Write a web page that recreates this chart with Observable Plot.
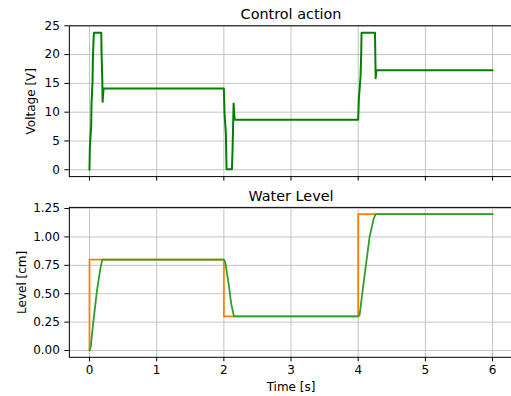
<!DOCTYPE html>
<html><head><meta charset="utf-8">
<script src="https://cdn.jsdelivr.net/npm/d3@7"></script>
<script src="https://cdn.jsdelivr.net/npm/@observablehq/plot@0.6"></script>
<style>
body{margin:0;background:#fff;font-family:"DejaVu Sans",sans-serif;}
#wrap{position:relative;width:511px;height:396px;overflow:hidden;background:#fff;}
#top,#bottom{position:absolute;left:0;}
#top{top:0}
#bottom{top:190px}
</style></head><body><div id="wrap"><div id="top"></div><div id="bottom"></div></div>
<script>
// ---- data ----
const topTitle = "Control action";
const bottomTitle = "Water Level";
const xLabel = "Time [s]";
const topYLabel = "Voltage [V]";
const bottomYLabel = "Level [cm]";

const xTicks = [0, 1, 2, 3, 4, 5, 6];
const voltTicks = [0, 5, 10, 15, 20, 25];
const levelTicks = [0, 0.25, 0.5, 0.75, 1.0, 1.25];

const ctrlTime = [0, 0.005, 0.025, 0.03, 0.045, 0.05, 0.062, 0.067, 0.175, 0.18, 0.19, 0.195, 0.21, 2.0, 2.01, 2.03, 2.04, 2.12, 2.13, 2.145, 2.16, 4.0, 4.01, 4.035, 4.045, 4.05, 4.25, 4.26, 4.27, 6.0];
const ctrlVolt = [0, 3.9, 7.6, 11.5, 15.2, 19.1, 23.1, 23.8, 23.8, 20.0, 15.9, 11.8, 14.1, 14.1, 9.8, 6.3, 0.1, 0.1, 3.7, 11.5, 8.7, 8.7, 12.4, 16.2, 20.2, 23.8, 23.8, 15.9, 17.3, 17.3];

const refTime = [0, 0, 2, 2, 4, 4, 6];
const refLevel = [0, 0.8, 0.8, 0.3, 0.3, 1.2, 1.2];

const lvlTime = [0, 0.02, 0.03, 0.064, 0.114, 0.164, 0.19, 2.0, 2.02, 2.07, 2.11, 2.15, 4.0, 4.02, 4.06, 4.11, 4.17, 4.23, 4.26, 6.0];
const lvlLevel = [0, 0.04, 0.1, 0.29, 0.54, 0.73, 0.8, 0.8, 0.78, 0.59, 0.41, 0.3, 0.3, 0.31, 0.5, 0.73, 1.0, 1.16, 1.2, 1.2];

// ---- tables ----
const ctrl = ctrlTime.map((t, i) => ({t, v: ctrlVolt[i]}));
const ref = refTime.map((t, i) => ({t, v: refLevel[i]}));
const lvl = lvlTime.map((t, i) => ({t, v: lvlLevel[i]}));

const gridStyle = {stroke: "#c4c4c4", strokeOpacity: 1, strokeWidth: 1};
const baseStyle = {fontFamily: "DejaVu Sans, sans-serif", fontSize: "12px", background: "white", overflow: "visible", color: "black"};

const topPlot = Plot.plot({
  width: 511, height: 190,
  marginLeft: 68.85, marginRight: -1.2, marginTop: 25.3, marginBottom: 13.9,
  style: baseStyle,
  x: {domain: [-0.3, 6.3]},
  y: {domain: [-1.19, 25]},
  marks: [
    Plot.gridX(xTicks, gridStyle),
    Plot.gridY(voltTicks, gridStyle),
    Plot.axisX(xTicks, {tickFormat: () => "", tickSize: 4.5, label: null}),
    Plot.axisY(voltTicks, {tickSize: 4.5, tickPadding: 5, label: topYLabel, labelAnchor: "center", labelOffset: 43, labelArrow: "none"}),
    Plot.line(ctrl, {x: "t", y: "v", stroke: "#008000", strokeWidth: 2}),
    Plot.frame({stroke: "black", strokeWidth: 1}),
    Plot.text([topTitle], {text: d => d, frameAnchor: "top", lineAnchor: "bottom", dy: -7, fontSize: 14.4})
  ]
});
document.getElementById("top").appendChild(topPlot);

const bottomPlot = Plot.plot({
  width: 511, height: 206,
  marginLeft: 68.85, marginRight: -1.2, marginTop: 16.9, marginBottom: 39.2,
  style: baseStyle,
  x: {domain: [-0.3, 6.3]},
  y: {domain: [-0.06, 1.26]},
  marks: [
    Plot.gridX(xTicks, gridStyle),
    Plot.gridY(levelTicks, gridStyle),
    Plot.axisX(xTicks, {tickSize: 4.5, tickPadding: 4, label: xLabel, labelAnchor: "center", labelOffset: 34, labelArrow: "none"}),
    Plot.axisY(levelTicks, {tickSize: 4.5, tickPadding: 5, tickFormat: d3.format(".2f"), label: bottomYLabel, labelAnchor: "center", labelOffset: 52, labelArrow: "none"}),
    Plot.line(ref, {x: "t", y: "v", stroke: "#ff7f0e", strokeWidth: 1.8}),
    Plot.line(lvl, {x: "t", y: "v", stroke: "#2ca02c", strokeWidth: 1.8}),
    Plot.frame({stroke: "black", strokeWidth: 1}),
    Plot.text([bottomTitle], {text: d => d, frameAnchor: "top", lineAnchor: "bottom", dy: -6.9, fontSize: 14.4})
  ]
});
document.getElementById("bottom").appendChild(bottomPlot);
</script>
</body></html>
